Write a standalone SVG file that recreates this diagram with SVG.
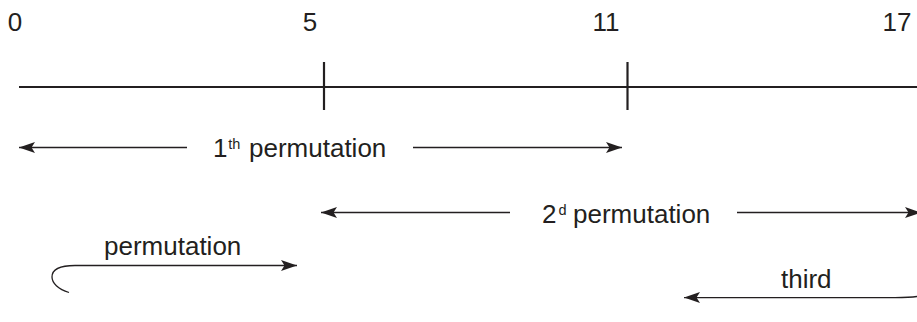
<svg xmlns="http://www.w3.org/2000/svg" width="917" height="322" viewBox="0 0 917 322">
  <style>
    text { font-family: "Liberation Sans", Arial, sans-serif; font-size: 26px; fill: #231f20; }
    .sup { font-size: 14.5px; }
    .axis { stroke: #231f20; stroke-width: 2.2; fill: none; }
    .arrow { stroke: #231f20; stroke-width: 1.3; fill: none; marker-end: url(#head); }
  </style>
  <defs>
    <marker id="head" viewBox="-17 -7 18 14" refX="0" refY="0" markerWidth="18" markerHeight="14" orient="auto" markerUnits="userSpaceOnUse">
      <path d="M0,0 L-16,-5.5 L-12.5,0 L-16,5.5 Z" fill="#231f20"/>
    </marker>
  </defs>

  <rect width="917" height="322" fill="#ffffff"/>

  <!-- scale -->
  <g id="scale">
    <line class="axis" x1="19" y1="87" x2="917" y2="87"/>
    <line class="axis" x1="324" y1="62" x2="324" y2="110"/>
    <line class="axis" x1="627.5" y1="62" x2="627.5" y2="110"/>
    <text x="15" y="31" text-anchor="middle">0</text>
    <text x="310" y="31" text-anchor="middle">5</text>
    <text x="606" y="31" text-anchor="middle">11</text>
    <text x="897" y="31" text-anchor="middle">17</text>
  </g>

  <!-- connectors -->
  <g id="connectors">
    <path class="arrow" d="M187,147.5 L19,147.5"/>
    <path class="arrow" d="M413,147.5 L622,147.5"/>
    <path class="arrow" d="M510,212.5 L321,212.5"/>
    <path class="arrow" d="M737,212.5 L921,212.5"/>
    <path class="arrow" d="M69,292.5 C58,289 52,283 52,277 C52,269 60,265.5 75,265.5 L297,265.5"/>
    <path class="arrow" d="M917,296.5 C910,297.6 905,297.6 895,297.6 L684,297.6"/>
  </g>

  <g id="label-first">
    <text x="213" y="156.5">1<tspan class="sup" x="228.3" dy="-8">th</tspan><tspan x="249" dy="8">permutation</tspan></text>
  </g>
  <g id="label-second">
    <text x="542" y="222.5">2<tspan class="sup" x="558.5" dy="-8">d</tspan><tspan x="573" dy="8">permutation</tspan></text>
  </g>
  <g id="label-permutation">
    <text x="104" y="255">permutation</text>
  </g>
  <g id="label-third">
    <text x="781" y="288">third</text>
  </g>
</svg>
